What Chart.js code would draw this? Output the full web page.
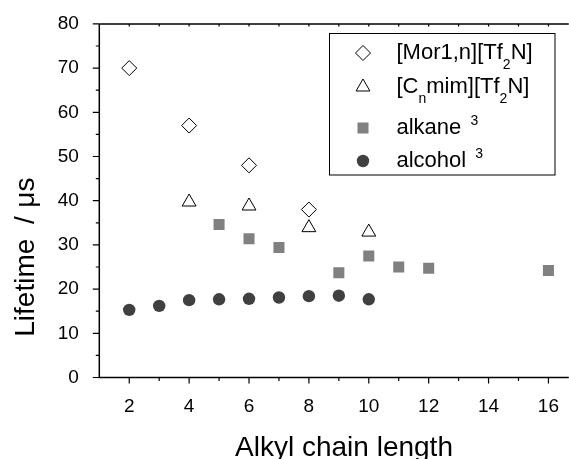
<!DOCTYPE html>
<html>
<head>
<meta charset="utf-8">
<script src="https://cdn.jsdelivr.net/npm/chart.js@4/dist/chart.umd.min.js"></script>
<style>
html, body { margin: 0; padding: 0; background: #fff; overflow: hidden; }
#wrap { width: 569px; height: 459px; position: relative; }
</style>
</head>
<body>
<div id="wrap"><canvas id="lifetimeChart"></canvas></div>
<script>
// data
const morX = [2, 4, 6, 8];
const morY = [70, 57, 48, 38];
const cnmimX = [4, 6, 8, 10];
const cnmimY = [39.7, 38.8, 33.9, 32.9];
const alkaneX = [5, 6, 7, 9, 10, 11, 12, 16];
const alkaneY = [34.6, 31.4, 29.4, 23.7, 27.5, 25.0, 24.7, 24.2];
const alcoholX = [2, 3, 4, 5, 6, 7, 8, 9, 10];
const alcoholY = [15.3, 16.2, 17.5, 17.7, 17.8, 18.1, 18.4, 18.5, 17.7];
const xTicks = [2, 4, 6, 8, 10, 12, 14, 16];
const xMinorTicks = [3, 5, 7, 9, 11, 13, 15];
const yTicks = [0, 10, 20, 30, 40, 50, 60, 70, 80];
const yMinorTicks = [5, 15, 25, 35, 45, 55, 65, 75];

const FONT = '"Liberation Sans", Arial, sans-serif';

function toPoints(xs, ys) {
    return xs.map((x, i) => ({ x: x, y: ys[i] }));
}

// legend labels: pieces of [text, 'n'|'sub'|'sup']
const legendItems = [
    [['[Mor1,n][Tf', 'n'], ['2', 'sub'], ['N]', 'n']],
    [['[C', 'n'], ['n', 'sub'], ['mim][Tf', 'n'], ['2', 'sub'], ['N]', 'n']],
    [['alkane ', 'n'], ['3', 'sup']],
    [['alcohol ', 'n'], ['3', 'sup']]
];

// axes lines + major/minor ticks + titles
const axesPlugin = {
    id: 'axesPlugin',
    afterDraw(chart) {
        const ctx = chart.ctx;
        const a = chart.chartArea;
        const xs = chart.scales.x;
        const ys = chart.scales.y;
        ctx.save();
        ctx.strokeStyle = '#000';
        ctx.lineWidth = 1.5;
        ctx.beginPath();
        ctx.moveTo(a.left, a.top);
        ctx.lineTo(a.left, a.bottom);
        ctx.lineTo(a.right, a.bottom);
        ctx.moveTo(a.left, a.top);
        ctx.lineTo(a.right, a.top);
        ctx.stroke();

        ctx.lineWidth = 1.2;
        ctx.beginPath();
        xTicks.forEach(v => {
            const px = xs.getPixelForValue(v);
            ctx.moveTo(px, a.bottom);
            ctx.lineTo(px, a.bottom + 6);
            ctx.moveTo(px, a.top);
            ctx.lineTo(px, a.top + 2.5);
        });
        xMinorTicks.forEach(v => {
            const px = xs.getPixelForValue(v);
            ctx.moveTo(px, a.bottom);
            ctx.lineTo(px, a.bottom + 3.5);
            ctx.moveTo(px, a.top);
            ctx.lineTo(px, a.top + 2.5);
        });
        yTicks.forEach(v => {
            const py = ys.getPixelForValue(v);
            ctx.moveTo(a.left, py);
            ctx.lineTo(a.left - 6.5, py);
        });
        yMinorTicks.forEach(v => {
            const py = ys.getPixelForValue(v);
            ctx.moveTo(a.left, py);
            ctx.lineTo(a.left - 3.5, py);
        });
        ctx.stroke();

        // axis titles
        ctx.fillStyle = '#000';
        ctx.font = '28px ' + FONT;
        ctx.textAlign = 'center';
        ctx.textBaseline = 'alphabetic';
        ctx.fillText('Alkyl chain length', 344, 456);

        ctx.translate(33.5, 0);
        ctx.rotate(-Math.PI / 2);
        ctx.textAlign = 'left';
        ctx.fillText('Lifetime', -336.7, 0);
        ctx.textAlign = 'center';
        ctx.fillText('/', -220, 0);
        ctx.textAlign = 'right';
        ctx.fillText('\u03bcs', -177.5, 0);
        ctx.restore();
    }
};

// boxed legend with sub/superscripts
const legendPlugin = {
    id: 'legendPlugin',
    afterDraw(chart) {
        const ctx = chart.ctx;
        const rows = [53, 87, 128, 161];
        ctx.save();
        ctx.strokeStyle = '#000';
        ctx.lineWidth = 1;
        ctx.fillStyle = '#fff';
        ctx.fillRect(329.5, 33.5, 225.5, 141.5);
        ctx.strokeRect(329.5, 33.5, 225.5, 141.5);

        chart.data.datasets.forEach((ds, i) => {
            const y = rows[i];
            ctx.save();
            ctx.fillStyle = ds.backgroundColor;
            ctx.strokeStyle = ds.borderColor;
            ctx.lineWidth = ds.borderWidth;
            Chart.helpers.drawPoint(ctx, {
                pointStyle: ds.pointStyle,
                radius: ds.pointRadius,
                rotation: 0,
                borderWidth: ds.borderWidth
            }, 363, y);
            ctx.restore();

            let x = 396.5;
            ctx.fillStyle = '#000';
            ctx.textAlign = 'left';
            ctx.textBaseline = 'middle';
            legendItems[i].forEach(([txt, kind]) => {
                if (kind === 'n') {
                    ctx.font = '22px ' + FONT;
                    ctx.fillText(txt, x, y);
                } else if (kind === 'sub') {
                    ctx.font = '14px ' + FONT;
                    ctx.fillText(txt, x, y + 12);
                } else {
                    ctx.font = '14px ' + FONT;
                    ctx.fillText(txt, x + 3, y - 7);
                }
                x += ctx.measureText(txt).width;
            });
        });
        ctx.restore();
    }
};

const ctx = document.getElementById('lifetimeChart').getContext('2d');
const lifetimeChart = new Chart(ctx, {
    type: 'scatter',
    data: {
        datasets: [
            {
                label: '[Mor1,n][Tf2N]',
                data: toPoints(morX, morY),
                pointStyle: 'rectRot',
                pointRadius: 7.5,
                backgroundColor: '#fff',
                borderColor: '#000',
                borderWidth: 1
            },
            {
                label: '[Cnmim][Tf2N]',
                data: toPoints(cnmimX, cnmimY),
                pointStyle: 'triangle',
                pointRadius: 8,
                backgroundColor: '#fff',
                borderColor: '#000',
                borderWidth: 1
            },
            {
                label: 'alkane 3',
                data: toPoints(alkaneX, alkaneY),
                pointStyle: 'rect',
                pointRadius: 7.8,
                backgroundColor: '#808080',
                borderColor: '#808080',
                borderWidth: 0
            },
            {
                label: 'alcohol 3',
                data: toPoints(alcoholX, alcoholY),
                pointStyle: 'circle',
                pointRadius: 6.2,
                backgroundColor: '#404040',
                borderColor: '#404040',
                borderWidth: 0
            }
        ]
    },
    options: {
        responsive: true,
        maintainAspectRatio: false,
        animation: false,
        events: [],
        layout: { padding: { top: 23.5, right: 0, left: 0, bottom: 0 }, autoPadding: false },
        plugins: {
            legend: { display: false },
            tooltip: { enabled: false }
        },
        scales: {
            x: {
                type: 'linear',
                min: 1,
                max: 16.68,
                afterBuildTicks: s => { s.ticks = xTicks.map(v => ({ value: v })); },
                afterFit: s => { s.height = 81.5; },
                grid: { display: false },
                border: { display: false },
                ticks: { color: '#000', font: { family: FONT, size: 19 }, padding: 10, maxRotation: 0 }
            },
            y: {
                min: 0,
                max: 80,
                afterBuildTicks: s => { s.ticks = yTicks.map(v => ({ value: v })); },
                afterFit: s => { s.width = 99.3; },
                grid: { display: false },
                border: { display: false },
                ticks: { color: '#000', font: { family: FONT, size: 19 }, padding: 12.5 }
            }
        }
    },
    plugins: [axesPlugin, legendPlugin]
});
</script>
</body>
</html>
